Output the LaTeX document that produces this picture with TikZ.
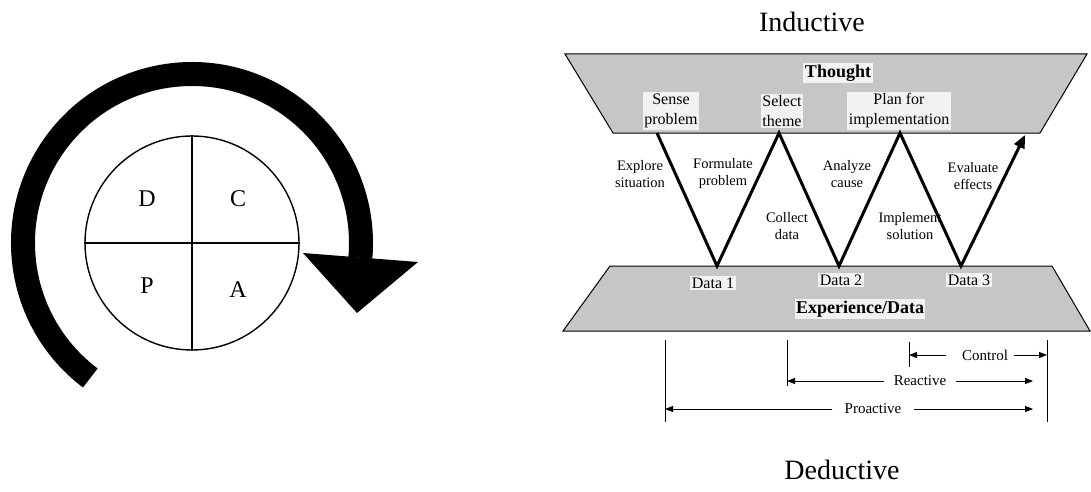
\documentclass[tikz,border=0pt]{standalone}
\usepackage{fontspec}
\setmainfont{Liberation Serif}
\usetikzlibrary{arrows.meta}
\begin{document}
\begin{tikzpicture}[x=1pt,y=-1pt,
  band/.style={draw=black, line width=1pt, fill=gray!45},
  bandlabel/.style={fill=gray!10, inner sep=1.5pt, align=center,
    font=\fontsize{16}{20}\selectfont},
  bandtitle/.style={fill=gray!10, inner sep=1.5pt,
    font=\fontsize{18}{20}\selectfont\bfseries},
  steplabel/.style={inner sep=0pt, align=center,
    font=\fontsize{14.5}{17}\selectfont},
  zig/.style={line width=3pt, line join=miter},
  letter/.style={font=\fontsize{24}{24}\selectfont},
  heading/.style={font=\fontsize{28}{28}\selectfont},
  dimlabel/.style={inner sep=0pt, font=\fontsize{15}{15}\selectfont},
  dimline/.style={line width=0.8pt},
  dimarrow/.style={line width=0.8pt, -{Triangle[length=8pt,width=6pt]}},
]
\useasboundingbox (0,0) rectangle (1091,492);

% ---------- PDCA wheel ----------
\node[circle, draw, line width=1.4pt, minimum size=214pt, inner sep=0pt] (wheel) at (192,243) {};
\draw[line width=1.4pt] (wheel.north) -- (wheel.south) (wheel.west) -- (wheel.east);
\node[letter] (D) at (147,199) {D};
\node[letter] (C) at (238,199) {C};
\node[letter] (P) at (147,286) {P};
\node[letter] (A) at (238,290) {A};

% thick rotating arrow around the wheel
\draw[line width=24pt] (wheel.center) ++(-233:169) arc[start angle=-233, end angle=5, radius=169];
\fill (303,253) -- (418,262) -- (357,313) -- cycle;

% ---------- inductive / deductive cycle ----------
\node[heading] (ind) at (812,22) {Inductive};
\node[heading] (ded) at (842,470) {Deductive};

% thought band
\draw[band] (565,54) -- (1087,54) -- (1040,133) -- (613,133) -- cycle;
\node[bandtitle] (thought) at (838,73) {Thought};
\node[bandlabel] (sense) at (671,111) {Sense\\problem};
\node[bandlabel] (select) at (782,111) {Select\\theme};
\node[bandlabel] (plan) at (899,111) {Plan for\\implementation};

% experience band
\draw[band] (610,266) -- (1052,266) -- (1090,331) -- (563,331) -- cycle;
\node[bandlabel] (data1) at (713,283) {Data 1};
\node[bandlabel] (data2) at (841,280) {Data 2};
\node[bandlabel] (data3) at (969,280) {Data 3};
\node[bandtitle] (exp) at (860,309) {Experience/Data};

% zigzag between the bands
\coordinate (t0) at (657,133);
\coordinate (b1) at (717,266);
\coordinate (t1) at (779,133);
\coordinate (b2) at (839,266);
\coordinate (t2) at (900,133);
\coordinate (b3) at (961,266);
\coordinate (t3) at (1025,135);
\draw[zig, -{Triangle[length=13pt,width=11pt]}]
  (t0) -- (b1) -- (t1) -- (b2) -- (t2) -- (b3) -- (t3);

\node[steplabel] (explore) at (640,174) {Explore\\situation};
\node[steplabel] (formulate) at (723,174) {Formulate\\problem};
\node[steplabel] (collect) at (787,226) {Collect\\data};
\node[steplabel] (analyze) at (847,174) {Analyze\\cause};
\node[steplabel] (implement) at (910,226) {Implement\\solution};
\node[steplabel] (evaluate) at (973,176) {Evaluate\\effects};

% ---------- scope of the approaches ----------
\coordinate (p0) at (665,340);  \coordinate (p1) at (665,422);
\coordinate (r0) at (787,340);  \coordinate (r1) at (787,386);
\coordinate (c0) at (909,342);  \coordinate (c1) at (909,367);
\coordinate (e0) at (1047,340); \coordinate (e1) at (1047,422);
\draw[dimline] (p0) -- (p1) (r0) -- (r1) (c0) -- (c1) (e0) -- (e1);

\node[dimlabel] (control) at (985,355) {Control};
\node[dimlabel] (reactive) at (920,381) {Reactive};
\node[dimlabel] (proactive) at (873,409) {Proactive};

\draw[dimarrow] (control.west) ++(-16,0) -- (909,355);
\draw[dimarrow] (control.east) ++(6,0) -- (1047,355);
\draw[dimarrow] (reactive.west) ++(-10,0) -- (787,381);
\draw[dimarrow] (reactive.east) ++(10,0) -- (1033,381);
\draw[dimarrow] (proactive.west) ++(-12,0) -- (665,409);
\draw[dimarrow] (proactive.east) ++(12,0) -- (1033,409);
\end{tikzpicture}
\end{document}
